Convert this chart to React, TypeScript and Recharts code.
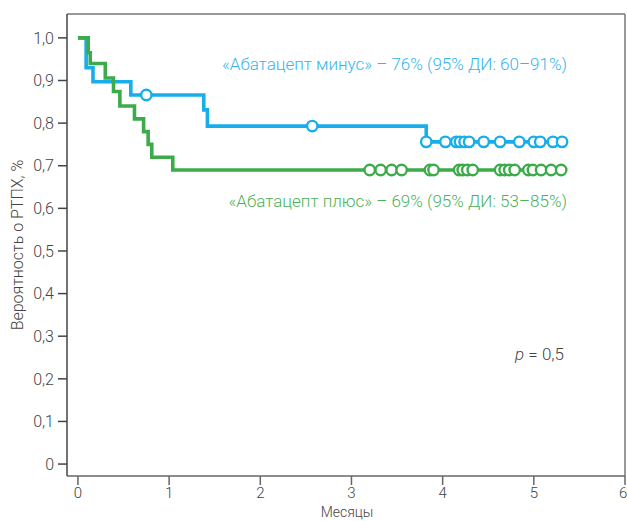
import React from 'react';
import { ComposedChart, Line, Scatter, XAxis, YAxis, ReferenceLine } from 'recharts';

// Kaplan–Meier steps
const blueTimes = [0, 0.09, 0.165, 0.58, 1.38, 1.42, 3.82, 5.31];
const blueSurv = [1.0, 0.93, 0.897, 0.866, 0.831, 0.793, 0.756, 0.756];
const blueCensorTimes = [0.75, 2.57, 3.82, 4.03, 4.15, 4.19, 4.24, 4.29, 4.45, 4.63, 4.84, 5.0, 5.07, 5.21, 5.31];

const greenTimes = [0, 0.113, 0.135, 0.3, 0.39, 0.46, 0.62, 0.72, 0.77, 0.81, 1.04, 5.3];
const greenSurv = [1.0, 0.965, 0.94, 0.906, 0.874, 0.84, 0.81, 0.78, 0.75, 0.72, 0.69, 0.69];
const greenCensorTimes = [3.2, 3.32, 3.44, 3.55, 3.86, 3.9, 4.18, 4.22, 4.27, 4.33, 4.63, 4.68, 4.73, 4.79, 4.94, 4.99, 5.08, 5.19, 5.3];

const xTicks = [0, 1, 2, 3, 4, 5, 6];
const yTicks = [0, 0.1, 0.2, 0.3, 0.4, 0.5, 0.6, 0.7, 0.8, 0.9, 1.0];

const BLUE = '#17aeea';
const GREEN = '#3dab4a';
const FONT = 'Roboto, sans-serif';

const toSteps = (times: number[], surv: number[]) => times.map((t, i) => ({ x: t, y: surv[i] }));

// value of the step curve at time t (for placing the censor marks on it)
const survAt = (times: number[], surv: number[], t: number) => {
  let v = surv[0];
  times.forEach((tt, i) => {
    if (tt <= t) v = surv[i];
  });
  return v;
};

const blueLine = toSteps(blueTimes, blueSurv);
const greenLine = toSteps(greenTimes, greenSurv);
const blueCensor = blueCensorTimes.map(t => ({ x: t, y: survAt(blueTimes, blueSurv, t) }));
const greenCensor = greenCensorTimes.map(t => ({ x: t, y: survAt(greenTimes, greenSurv, t) }));

const ring = (color: string) => (props: any) => (
  <circle cx={props.cx} cy={props.cy} r={5.2} fill="#fff" stroke={color} strokeWidth={2.4} />
);

const fmt = (v: number) => (v === 0 ? '0' : v.toFixed(1).replace('.', ','));

export default function App() {
  const tick = { fontSize: 16, fill: '#444', fontFamily: FONT, fontWeight: 300 };
  const txt = { position: 'absolute' as const, fontFamily: FONT, fontWeight: 300, whiteSpace: 'nowrap' as const };
  return (
    <div style={{ position: 'fixed', left: 0, top: 0, width: 627, height: 521, background: '#fff', overflow: 'hidden' }}>
      <ComposedChart width={627} height={521} margin={{ top: 14, right: 2, left: 10, bottom: 15 }}>
        <XAxis
          type="number"
          dataKey="x"
          domain={[-0.12, 6]}
          ticks={xTicks}
          allowDataOverflow
          tick={{ ...tick, fontSize: 15 }}
          tickSize={9}
          tickMargin={2}
          stroke="#666"
          strokeWidth={1.5}
          height={30}
        />
        <YAxis
          type="number"
          dataKey="y"
          domain={[-0.028, 1.056]}
          ticks={yTicks}
          allowDataOverflow
          tickFormatter={fmt}
          tick={tick}
          tickSize={9}
          tickMargin={4}
          stroke="#444"
          strokeWidth={1.5}
          width={57}
        />
        <ReferenceLine y={1.056} stroke="#777" strokeWidth={1.5} />
        <ReferenceLine x={6} stroke="#777" strokeWidth={1.5} />
        <Line data={blueLine} dataKey="y" type="stepAfter" stroke={BLUE} strokeWidth={3.6} dot={false} isAnimationActive={false} />
        <Line data={greenLine} dataKey="y" type="stepAfter" stroke={GREEN} strokeWidth={3.6} dot={false} isAnimationActive={false} />
        <Scatter data={blueCensor} dataKey="y" shape={ring(BLUE)} isAnimationActive={false} />
        <Scatter data={greenCensor} dataKey="y" shape={ring(GREEN)} isAnimationActive={false} />
      </ComposedChart>

      <div style={{ ...txt, right: 60, top: 54, fontSize: 17, color: '#35b5ec' }}>
        «Абатацепт минус» – 76% (95% ДИ: 60–91%)
      </div>
      <div style={{ ...txt, right: 60, top: 191, fontSize: 17, color: '#4cb158' }}>
        «Абатацепт плюс» – 69% (95% ДИ: 53–85%)
      </div>
      <div style={{ ...txt, right: 63, top: 344, fontSize: 17, color: '#444' }}>
        <i>p</i> = 0,5
      </div>
      <div
        style={{
          ...txt,
          left: 17,
          top: 245,
          transform: 'translate(-50%, -50%) rotate(-90deg)',
          fontSize: 16,
          color: '#444',
        }}
      >
        Вероятность о РТПХ, %
      </div>
      <div style={{ ...txt, left: 347, top: 504, transform: 'translateX(-50%)', fontSize: 14, lineHeight: '16px', color: '#444' }}>
        Месяцы
      </div>
    </div>
  );
}
